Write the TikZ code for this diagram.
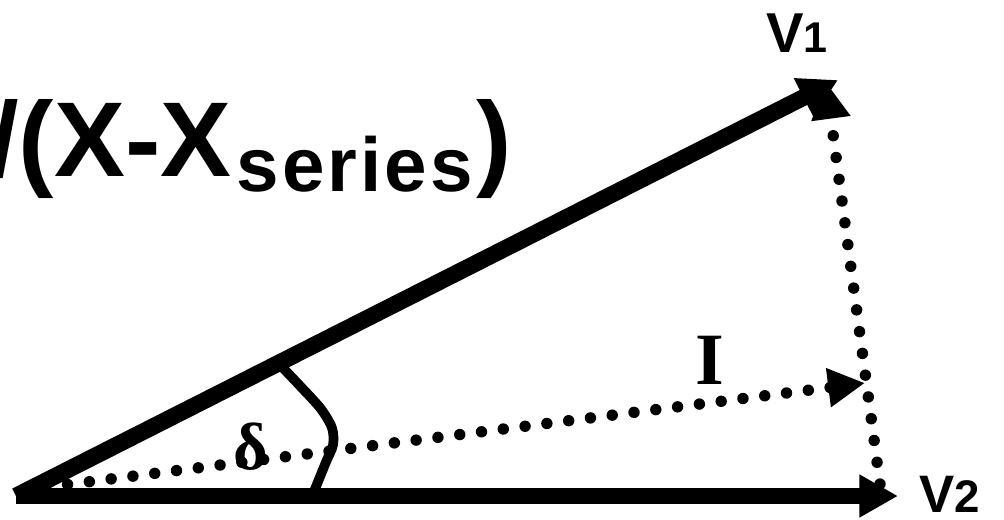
\documentclass[tikz,border=0pt]{standalone}
\usepackage{fontspec}
\setmainfont{Liberation Sans}
\newfontfamily\timesfont{Liberation Serif}
\usetikzlibrary{arrows.meta,positioning}

\tikzset{
  vecarr/.style={-{Triangle[length=22pt,width=23pt]},line width=9.5pt},
  dotarr/.style={-{Triangle[length=21pt,width=21pt]},line width=6.5pt,
                 line cap=round,dash pattern=on 0pt off 12.5pt},
  anglearc/.style={line width=5.5pt,line join=round,line cap=round},
  phlbl/.style={inner sep=0pt,font=\bfseries},
  serlbl/.style={inner sep=0pt,font=\timesfont\bfseries\fontsize{42}{42}\selectfont}
}

\begin{document}
\begin{tikzpicture}[x=0.02cm,y=-0.02cm]
  \useasboundingbox (0,0) rectangle (1004,520);

  % phasor end points
  \coordinate (O)  at (16,496);
  \coordinate (V1) at (838,80);
  \coordinate (V2) at (898,496);
  \coordinate (Ib) at (24,490);
  \coordinate (Ie) at (865,383);
  \coordinate (Db) at (880,484);
  \coordinate (Dt) at (826,82);

  \draw[dotarr] (Ib) -- (Ie);
  \draw[dotarr] (Db) -- (Dt);
  \draw[vecarr] (O) -- (V1);
  \draw[vecarr] (O) -- (V2);

  % load angle
  \draw[anglearc] plot[smooth] coordinates
      {(283,368) (302,388) (321,409) (332,428) (333,445) (326,462) (313,494)};

  \node[phlbl,anchor=base west] (title) at (-82,177)
      {\fontsize{60.5}{61}\selectfont V/(X-X\kern3pt\raisebox{-8.5pt}{\fontsize{43.5}{44}\selectfont\addfontfeature{LetterSpace=4}series}\kern2pt)};

  \node[phlbl,above left=0.54cm and 0.2cm of V1] (v1lbl)
      {\fontsize{32}{32}\selectfont V\fontsize{24.5}{25}\selectfont 1};
  \node[phlbl,right=0.42cm of V2,yshift=0.04cm] (v2lbl)
      {\fontsize{30}{30}\selectfont V\fontsize{26}{26}\selectfont 2};
  \node[serlbl] (ilbl) at (710,360) {I};
  \node[serlbl,font=\timesfont\bfseries\fontsize{38}{38}\selectfont] (dlbl) at (251,447) {δ};

\end{tikzpicture}
\end{document}
